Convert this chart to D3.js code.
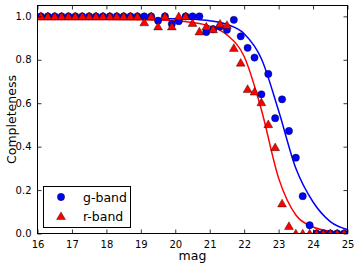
<!DOCTYPE html>
<html>
<head>
<meta charset="utf-8">
<script src="https://cdn.jsdelivr.net/npm/d3@7"></script>
<style>
	html, body { margin: 0; padding: 0; background: #fff; }
	svg { display: block; font-family: 'DejaVu Sans', sans-serif; }
</style>
</head>
<body>
<div id="chart"></div>
<script>
// binned completeness (bin centres, 0.2 mag)
const magBins = [16.1, 16.3, 16.5, 16.7, 16.9, 17.1, 17.3, 17.5, 17.7, 17.9,
	18.1, 18.3, 18.5, 18.7, 18.9, 19.1, 19.3, 19.5, 19.7, 19.9,
	20.1, 20.3, 20.5, 20.7, 20.9, 21.1, 21.3, 21.5, 21.7, 21.9,
	22.1, 22.3, 22.5, 22.7, 22.9, 23.1, 23.3, 23.5, 23.7, 23.9,
	24.1, 24.3, 24.5, 24.7, 24.9];
const gBand = [1, 1, 1, 1, 1, 1, 1, 1, 1, 1,
	1, 1, 1, 1, 1, 1, 1, 0.98, 1, 0.965,
	0.978, 1, 1, 1, 0.928, 0.941, 0.953, 0.938, 0.984, 0.908,
	0.855, 0.81, 0.641, 0.735, 0.531, 0.618, 0.472, 0.349, 0.172, 0.038,
	0, 0, 0, 0, 0];
const rBand = [1, 1, 1, 1, 1, 1, 1, 1, 1, 1,
	1, 1, 1, 1, 1, 0.972, 1, 0.953, 1, 0.953,
	1, 1, 0.969, 0.93, 0.953, 0.94, 0.966, 0.96, 0.854, 0.786,
	0.665, 0.653, 0.604, 0.503, 0.397, 0.138, 0.034, 0, 0, 0,
	0, 0, 0, 0, 0];

// fitted curves
const fitMag = [16, 17, 18, 19, 20, 20.5, 21, 21.5, 22, 22.5, 23, 23.5, 24, 24.5, 25];
const gFit = [0.99, 0.99, 0.99, 0.99, 0.989, 0.987, 0.98, 0.963, 0.92, 0.805, 0.565, 0.3, 0.145, 0.055, 0.018];
const rFit = [0.985, 0.985, 0.985, 0.984, 0.98, 0.972, 0.955, 0.915, 0.815, 0.57, 0.255, 0.085, 0.03, 0.01, 0.003];

const xTicks = [16, 17, 18, 19, 20, 21, 22, 23, 24, 25];
const yTicks = [0, 0.2, 0.4, 0.6, 0.8, 1.0];

const options = {
	w: 358,
	h: 268,
	mTop: 5.5,
	mLeft: 37.5,
	plotW: 310,
	plotH: 228,
	tick: 4
};

const svg = d3.select('#chart').append('svg')
	.attr('width', options.w)
	.attr('height', options.h);

const x = d3.scaleLinear().domain([16, 25]).range([options.mLeft, options.mLeft + options.plotW]);
const y = d3.scaleLinear().domain([0, 1.05]).range([options.mTop + options.plotH, options.mTop]);

svg.append('clipPath').attr('id', 'plotClip')
	.append('rect')
	.attr('x', options.mLeft).attr('y', options.mTop)
	.attr('width', options.plotW).attr('height', options.plotH);

const plot = svg.append('g').attr('clip-path', 'url(#plotClip)');

// fit lines
const line = d3.line()
	.curve(d3.curveMonotoneX)
	.x(d => x(d[0]))
	.y(d => y(d[1]));

plot.append('path')
	.datum(fitMag.map((m, i) => [m, gFit[i]]))
	.attr('d', line)
	.attr('fill', 'none')
	.attr('stroke', '#0000ff')
	.attr('stroke-width', 1.5);

plot.append('path')
	.datum(fitMag.map((m, i) => [m, rFit[i]]))
	.attr('d', line)
	.attr('fill', 'none')
	.attr('stroke', '#ff0000')
	.attr('stroke-width', 1.5);

// markers
const circleSym = d3.symbol().type(d3.symbolCircle).size(42);
const triSym = d3.symbol().type(d3.symbolTriangle).size(34);

plot.append('g').selectAll('path')
	.data(magBins.map((m, i) => [m, gBand[i]]))
	.enter()
	.append('path')
	.attr('d', circleSym)
	.attr('transform', d => `translate(${x(d[0])},${y(d[1])})`)
	.attr('fill', '#0000ff')
	.attr('stroke', '#000')
	.attr('stroke-width', 0.4);

plot.append('g').selectAll('path')
	.data(magBins.map((m, i) => [m, rBand[i]]))
	.enter()
	.append('path')
	.attr('d', triSym)
	.attr('transform', d => `translate(${x(d[0])},${y(d[1]) + 0.8})`)
	.attr('fill', '#ff0000')
	.attr('stroke', '#000')
	.attr('stroke-width', 0.4);

// axes: ticks inward on all sides
const xAxisB = d3.axisBottom(x).tickValues(xTicks).tickSizeInner(-options.tick).tickSizeOuter(0).tickPadding(7);
const xAxisT = d3.axisTop(x).tickValues(xTicks).tickSizeInner(-options.tick).tickSizeOuter(0).tickFormat('');
const yAxisL = d3.axisLeft(y).tickValues(yTicks).tickSizeInner(-options.tick).tickSizeOuter(0).tickPadding(6).tickFormat(d3.format('.1f'));
const yAxisR = d3.axisRight(y).tickValues(yTicks).tickSizeInner(-options.tick).tickSizeOuter(0).tickFormat('');

const styleAxis = g => {
	g.select('.domain').remove();
	g.selectAll('line').attr('stroke', '#000').attr('stroke-width', 0.8);
	g.selectAll('text').attr('font-size', 10).attr('fill', '#000').attr('font-family', 'DejaVu Sans');
};

svg.append('g').attr('transform', `translate(0,${options.mTop + options.plotH})`).call(xAxisB).call(styleAxis);
svg.append('g').attr('transform', `translate(0,${options.mTop})`).call(xAxisT).call(styleAxis);
svg.append('g').attr('transform', `translate(${options.mLeft},0)`).call(yAxisL).call(styleAxis);
svg.append('g').attr('transform', `translate(${options.mLeft + options.plotW},0)`).call(yAxisR).call(styleAxis);

svg.append('rect')
	.attr('x', options.mLeft).attr('y', options.mTop)
	.attr('width', options.plotW).attr('height', options.plotH)
	.attr('fill', 'none')
	.attr('stroke', '#000')
	.attr('stroke-width', 1);

// axis labels
svg.append('text')
	.attr('x', options.mLeft + options.plotW / 2)
	.attr('y', 260)
	.attr('text-anchor', 'middle')
	.attr('font-size', 12.5)
	.text('mag');

svg.append('text')
	.attr('transform', `translate(16,${options.mTop + options.plotH / 2}) rotate(-90)`)
	.attr('text-anchor', 'middle')
	.attr('font-size', 12.5)
	.text('Completeness');

// legend
const legend = svg.append('g');
legend.append('rect')
	.attr('x', 43.5).attr('y', 186.5)
	.attr('width', 87).attr('height', 41)
	.attr('fill', '#fff')
	.attr('stroke', '#000')
	.attr('stroke-width', 1);

legend.append('path')
	.attr('d', circleSym)
	.attr('transform', 'translate(61,197)')
	.attr('fill', '#0000ff').attr('stroke', '#000').attr('stroke-width', 0.4);
legend.append('path')
	.attr('d', triSym)
	.attr('transform', 'translate(61,217)')
	.attr('fill', '#ff0000').attr('stroke', '#000').attr('stroke-width', 0.4);

legend.append('text').attr('x', 83).attr('y', 201.5).attr('font-size', 12.5).text('g-band');
legend.append('text').attr('x', 83).attr('y', 220.5).attr('font-size', 12.5).text('r-band');
</script>
</body>
</html>
